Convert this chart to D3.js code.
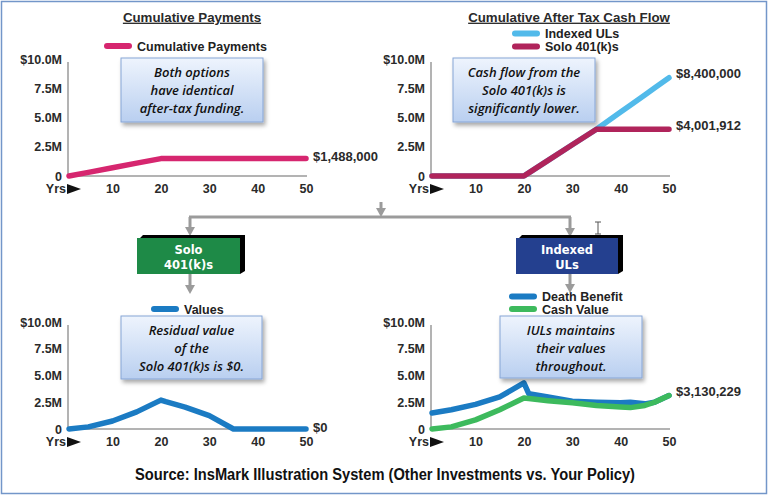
<!DOCTYPE html>
<html><head><meta charset="utf-8">
<script src="https://cdn.jsdelivr.net/npm/d3@7"></script>
<style>
html,body{margin:0;padding:0;background:#fff;}
svg{display:block;}
</style></head>
<body>
<svg id="chart" width="769" height="496"></svg>
<script>
// ---------- data (values in $ millions) ----------
const years = [1, 5, 10, 15, 20, 21, 25, 30, 35, 40, 42, 45, 47, 50];
const cumulativePayments = [0, 0.31, 0.70, 1.10, 1.488, 1.488, 1.488, 1.488, 1.488, 1.488, 1.488, 1.488, 1.488, 1.488];
const iulCashFlow  = [0, 0, 0, 0, 0, 0.27, 1.33, 2.67, 4.0, 5.47, 6.05, 6.93, 7.52, 8.4];
const soloCashFlow = [0, 0, 0, 0, 0, 0.27, 1.33, 2.67, 4.0, 4.0, 4.0, 4.0, 4.0, 4.0019];
const soloValues   = [0, 0.2, 0.75, 1.6, 2.7, 2.55, 2.05, 1.25, 0, 0, 0, 0, 0, 0];
const deathBenefit = [1.5, 1.8, 2.3, 3.0, 4.3, 3.3, 3.0, 2.6, 2.5, 2.45, 2.5, 2.35, 2.5, 3.13];
const cashValue    = [0, 0.2, 0.85, 1.8, 2.9, 2.85, 2.65, 2.45, 2.2, 2.05, 2.0, 2.2, 2.5, 3.13];

const yTickValues = [0, 2.5, 5, 7.5, 10];
const yTickLabels = ["0", "2.5M", "5.0M", "7.5M", "$10.0M"];
const xTickValues = [10, 20, 30, 40, 50];
const xAxisLabel = "Yrs";

const titles = ["Cumulative Payments", "Cumulative After Tax Cash Flow"];
const notes = [
  ["Both options", "have identical", "after-tax funding."],
  ["Cash flow from the", "Solo 401(k)s is", "significantly lower."],
  ["Residual value", "of the", "Solo 401(k)s is $0."],
  ["IULs maintains", "their values", "throughout."]
];
const endLabels = ["$1,488,000", "$8,400,000", "$4,001,912", "$0", "$3,130,229"];
const boxLabels = [["Solo", "401(k)s"], ["Indexed", "ULs"]];
const sourceText = "Source: InsMark Illustration System (Other Investments vs. Your Policy)";

// ---------- styles ----------
const C = {
  pay: "#d6266f", iul: "#52baea", solo: "#b0245b", values: "#1b7bc3",
  db: "#1b7bc3", cv: "#3dba5d", axis: "#9a9a9a", text: "#2a2a2a",
  green: "#1e8a47", blue: "#24408f"
};
const FONT = "'Liberation Sans', Arial, sans-serif";

const svg = d3.select("#chart");
const defs = svg.append("defs");
const grad = defs.append("linearGradient").attr("id", "noteGrad").attr("x1", 0).attr("y1", 0).attr("x2", 0).attr("y2", 1);
grad.append("stop").attr("offset", "0%").attr("stop-color", "#eef4fd");
grad.append("stop").attr("offset", "100%").attr("stop-color", "#b9cff0");
const flt = defs.append("filter").attr("id", "shadow").attr("x", "-10%").attr("y", "-10%").attr("width", "130%").attr("height", "140%");
flt.append("feDropShadow").attr("dx", 2).attr("dy", 3).attr("stdDeviation", 2).attr("flood-color", "#000").attr("flood-opacity", 0.35);

// outer frame
svg.append("rect").attr("x", 1.5).attr("y", 1.5).attr("width", 765).attr("height", 492)
  .attr("fill", "none").attr("stroke", "#7396c9").attr("stroke-width", 1.5);

// ---------- panels ----------
const panels = [
  { x0: 69, x1: 306, y0: 176, y1: 59 },
  { x0: 432, x1: 669, y0: 176, y1: 59 },
  { x0: 69, x1: 306, y0: 429, y1: 322 },
  { x0: 432, x1: 669, y0: 429, y1: 322 }
];

function drawPanel(p) {
  const x = d3.scaleLinear().domain([1, 50]).range([p.x0, p.x1]);
  const y = d3.scaleLinear().domain([0, 10]).range([p.y0, p.y1]);
  const g = svg.append("g");
  const ya = g.append("g").attr("transform", `translate(${p.x0 - 1},0)`)
    .call(d3.axisLeft(y).tickValues(yTickValues).tickSize(0).tickPadding(6)
      .tickFormat((d, i) => yTickLabels[i]));
  ya.select(".domain").attr("stroke", C.axis).attr("stroke-width", 1.5).attr("d", `M0,${p.y1 + 3}V${p.y0}`);
  ya.selectAll("text").attr("font-family", FONT).attr("font-weight", "bold").attr("font-size", 12.5).attr("fill", C.text);
  const xa = g.append("g").attr("transform", `translate(0,${p.y0})`)
    .call(d3.axisBottom(x).tickValues(xTickValues).tickSize(0).tickPadding(8));
  xa.select(".domain").attr("stroke", C.axis).attr("stroke-width", 1.5).attr("d", `M${p.x0 - 1},0H${p.x1 + 1}`);
  xa.selectAll("text").attr("font-family", FONT).attr("font-weight", "bold").attr("font-size", 12.5).attr("fill", C.text);
  // "Yrs ▶"
  g.append("text").attr("x", p.x0 - 3).attr("y", p.y0 + 17).attr("text-anchor", "end")
    .attr("font-family", FONT).attr("font-weight", "bold").attr("font-size", 12.5).attr("fill", C.text).text(xAxisLabel);
  g.append("path").attr("d", `M${p.x0 - 2},${p.y0 + 8}L${p.x0 + 12},${p.y0 + 13}L${p.x0 - 2},${p.y0 + 18}Z`).attr("fill", "#111");
  return { x, y, g };
}

function drawLine(P, vals, color) {
  const line = d3.line().x((d, i) => P.x(years[i])).y(d => P.y(d));
  P.g.append("path").datum(vals).attr("d", line).attr("fill", "none")
    .attr("stroke", color).attr("stroke-width", 5.5).attr("stroke-linecap", "round").attr("stroke-linejoin", "round");
}

function endLabel(P, v, t, dy) {
  P.g.append("text").attr("x", P.x(50) + 7).attr("y", P.y(v) + (dy || 0)).attr("dy", "0.35em")
    .attr("font-family", FONT).attr("font-weight", "bold").attr("font-size", 13).attr("fill", C.text).text(t);
}

function legend(x, y, color, label) {
  svg.append("line").attr("x1", x).attr("x2", x + 22).attr("y1", y).attr("y2", y)
    .attr("stroke", color).attr("stroke-width", 6).attr("stroke-linecap", "round");
  svg.append("text").attr("x", x + 30).attr("y", y).attr("dy", "0.36em")
    .attr("font-family", FONT).attr("font-weight", "bold").attr("font-size", 12.5).attr("fill", "#222").text(label);
}

function note(x, y, w, h, lines) {
  svg.append("rect").attr("x", x).attr("y", y).attr("width", w).attr("height", h)
    .attr("fill", "url(#noteGrad)").attr("stroke", "#86a5d6").attr("stroke-width", 1).attr("filter", "url(#shadow)");
  lines.forEach((l, i) => {
    svg.append("text").attr("x", x + w / 2).attr("y", y + 14 + i * 18).attr("dy", "0.35em")
      .attr("text-anchor", "middle").attr("font-family", "'Open Sans', Lato, sans-serif")
      .attr("font-style", "italic").attr("font-weight", 600).attr("font-size", 13).attr("fill", "#111").text(l);
  });
}

function title(x, y, t) {
  svg.append("text").attr("x", x).attr("y", y).attr("dy", "0.35em").attr("text-anchor", "middle")
    .attr("font-family", FONT).attr("font-weight", "bold").attr("font-size", 13.3).attr("fill", "#2a2a2a")
    .attr("text-decoration", "underline").text(t);
}

// titles
title(192, 17, titles[0]);
title(569, 17, titles[1]);

// legends
legend(107, 46, C.pay, "Cumulative Payments");
legend(515, 33.5, C.iul, "Indexed ULs");
legend(515, 46.5, C.solo, "Solo 401(k)s");
legend(154, 309, C.values, "Values");
legend(512, 296.5, C.db, "Death Benefit");
legend(512, 309, C.cv, "Cash Value");

// charts
const P1 = drawPanel(panels[0]);
drawLine(P1, cumulativePayments, C.pay);
endLabel(P1, cumulativePayments[cumulativePayments.length - 1], endLabels[0], -2);

const P2 = drawPanel(panels[1]);
drawLine(P2, iulCashFlow, C.iul);
drawLine(P2, soloCashFlow, C.solo);
endLabel(P2, iulCashFlow[iulCashFlow.length - 1], endLabels[1], -4);
endLabel(P2, soloCashFlow[soloCashFlow.length - 1], endLabels[2], -4);

const P3 = drawPanel(panels[2]);
drawLine(P3, soloValues, C.values);
endLabel(P3, 0, endLabels[3], -2);

const P4 = drawPanel(panels[3]);
drawLine(P4, deathBenefit, C.db);
drawLine(P4, cashValue, C.cv);
endLabel(P4, cashValue[cashValue.length - 1], endLabels[4], -4);

// notes
note(121, 58, 142, 64, notes[0]);
note(453, 58, 142, 64, notes[1]);
note(121, 316, 141, 63, notes[2]);
note(500, 316, 142, 62, notes[3]);

// ---------- flow diagram ----------
const fl = svg.append("g");
const gray = "#9b9b9b";
function arrowDown(x, yTop, yBot) {
  fl.append("line").attr("x1", x).attr("x2", x).attr("y1", yTop).attr("y2", yBot - 6)
    .attr("stroke", gray).attr("stroke-width", 3);
  fl.append("path").attr("d", `M${x - 5},${yBot - 9}L${x + 5},${yBot - 9}L${x},${yBot}Z`).attr("fill", gray);
}
fl.append("line").attr("x1", 189).attr("x2", 571).attr("y1", 217).attr("y2", 217).attr("stroke", gray).attr("stroke-width", 3);
arrowDown(381, 202, 217);
arrowDown(190, 217, 236);
arrowDown(570, 217, 237);
arrowDown(190, 274, 294);
arrowDown(570, 274, 293);

function box(x, y, w, h, fill, lines) {
  fl.append("path").attr("d", `M${x + 3},${y}L${x + 6},${y - 3}L${x + w + 5},${y - 3}L${x + w + 5},${y + h - 3}L${x + w},${y + h}L${x + w},${y}Z`).attr("fill", "#000");
  fl.append("rect").attr("x", x).attr("y", y).attr("width", w).attr("height", h).attr("fill", fill);
  lines.forEach((l, i) => {
    fl.append("text").attr("x", x + w / 2).attr("y", y + 12 + i * 15).attr("dy", "0.35em").attr("text-anchor", "middle")
      .attr("font-family", "'DejaVu Sans', Verdana, sans-serif").attr("font-weight", "bold").attr("font-size", 11.5).attr("fill", "#fff").text(l);
  });
}
box(137, 238, 103, 36, C.green, boxLabels[0]);
box(516, 238, 102, 36, C.blue, boxLabels[1]);

// I-beam cursor
fl.append("path").attr("d", "M598,222V234M595,222H601M595,234H601").attr("stroke", "#555").attr("stroke-width", 1).attr("fill", "none");

// source
svg.append("text").attr("x", 385).attr("y", 474).attr("dy", "0.35em").attr("text-anchor", "middle")
  .attr("font-family", "'Liberation Sans Narrow', 'Arial Narrow', 'Liberation Sans', sans-serif").attr("font-weight", "bold")
  .attr("font-size", 16).attr("textLength", 500).attr("lengthAdjust", "spacingAndGlyphs")
  .attr("fill", "#111").text(sourceText);
</script>
</body></html>
